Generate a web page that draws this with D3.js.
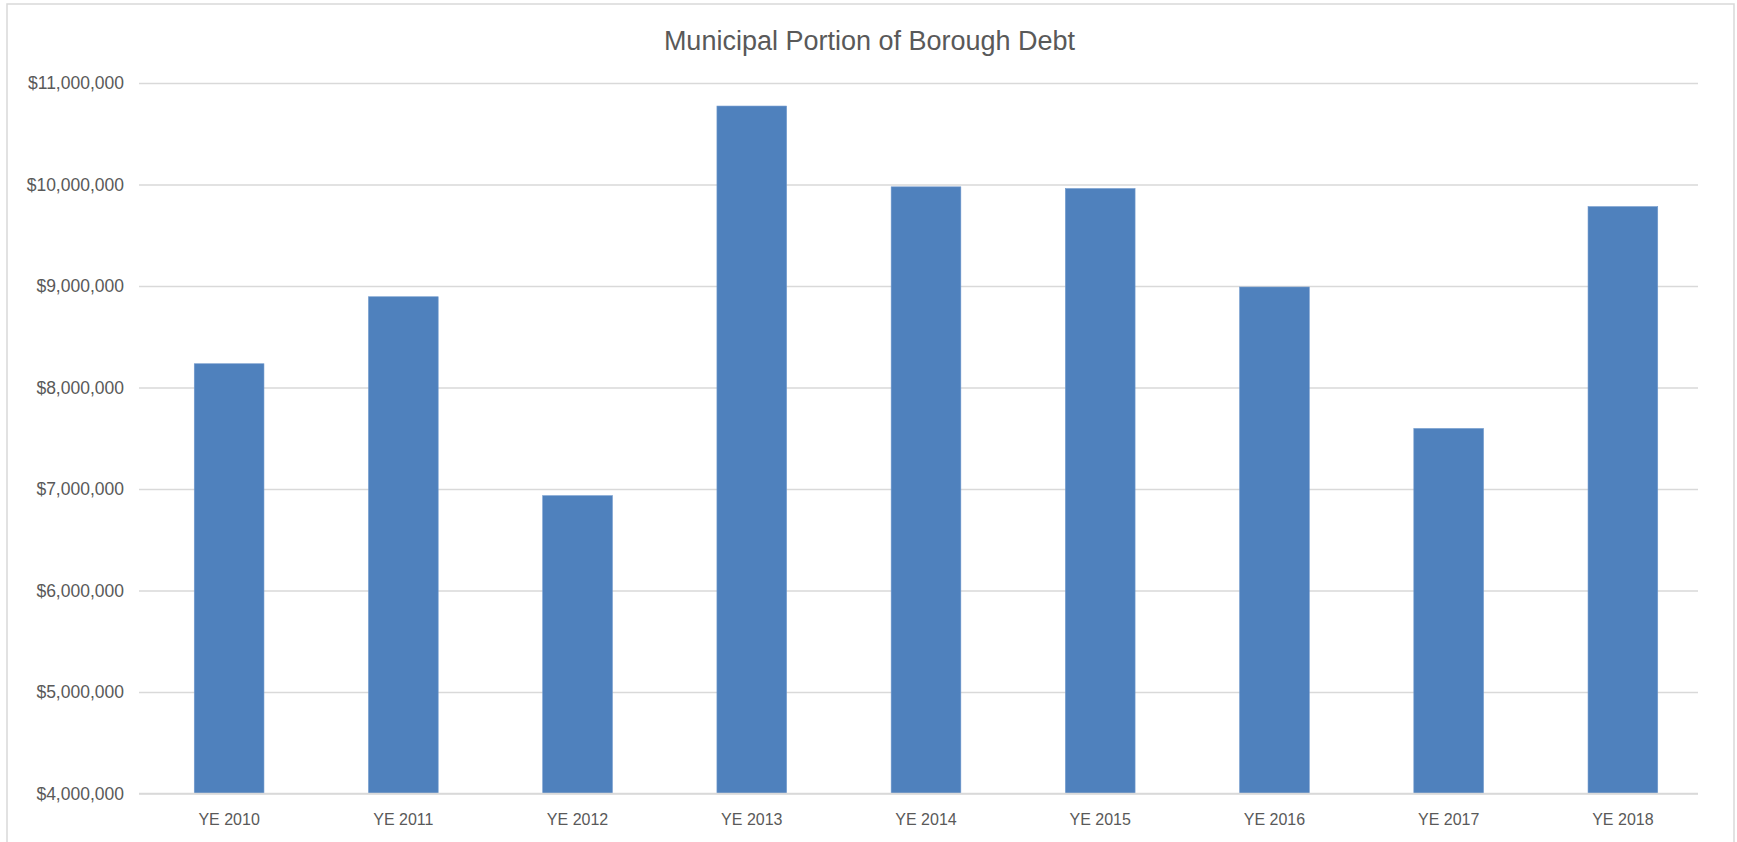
<!DOCTYPE html>
<html>
<head>
<meta charset="utf-8">
<script src="https://cdn.jsdelivr.net/npm/d3@7"></script>
<style>
  html, body { margin: 0; padding: 0; background: #fff; }
  svg { display: block; }
</style>
</head>
<body>
<svg id="chart" width="1737" height="842"></svg>
<script>
const title = "Municipal Portion of Borough Debt";
const categories = ["YE 2010","YE 2011","YE 2012","YE 2013","YE 2014","YE 2015","YE 2016","YE 2017","YE 2018"];
const values = [8234000, 8894000, 6934000, 10773000, 9977000, 9960000, 8990000, 7596000, 9782000];
const yTicks = [4000000, 5000000, 6000000, 7000000, 8000000, 9000000, 10000000, 11000000];

const svg = d3.select("#chart");
const W = 1737, H = 842;
const gridLeft = 139, gridRight = 1698;
const plotTop = 83, plotBottom = 793.5;
const font = "'Liberation Sans', Arial, sans-serif";
const textColor = "#595959";

// outer chart border
svg.append("rect")
  .attr("x", 7).attr("y", 4)
  .attr("width", 1727).attr("height", 860)
  .attr("fill", "#fff").attr("stroke", "#d9d9d9").attr("stroke-width", 1.5);

const x = d3.scaleBand()
  .domain(categories)
  .range([142, 1710])
  .paddingInner(0.6).paddingOuter(0.3);

const y = d3.scaleLinear()
  .domain([4000000, 11000000])
  .range([plotBottom, plotTop]);

// gridlines + y labels
const yAxis = d3.axisLeft(y)
  .tickValues(yTicks)
  .tickSize(-(gridRight - gridLeft))
  .tickPadding(15)
  .tickFormat(d => "$" + d3.format(",")(d));

const gy = svg.append("g")
  .attr("transform", `translate(${gridLeft},0)`)
  .call(yAxis);
gy.select(".domain").remove();
gy.selectAll(".tick line").attr("stroke", "#d9d9d9").attr("stroke-width", 1.5);
gy.selectAll(".tick text")
  .attr("fill", textColor)
  .style("font-family", font)
  .style("font-size", "17.5px");

// bars
svg.append("g").selectAll("rect")
  .data(categories.map((c, i) => ({ c, v: values[i] })))
  .join("rect")
  .attr("x", d => x(d.c))
  .attr("width", x.bandwidth())
  .attr("y", d => y(d.v))
  .attr("height", d => y(4000000) - y(d.v))
  .attr("fill", "#4f81bd")
  .attr("stroke", "#6f98cc").attr("stroke-width", 0.6);

// x axis labels
const xAxis = d3.axisBottom(x).tickSize(0).tickPadding(20);
const gx = svg.append("g")
  .attr("transform", `translate(0,${plotBottom})`)
  .call(xAxis);
gx.select(".domain").remove();
gx.selectAll(".tick text")
  .attr("fill", textColor)
  .style("font-family", font)
  .style("font-size", "16px");

// baseline
svg.append("line")
  .attr("x1", gridLeft).attr("x2", gridRight)
  .attr("y1", y(4000000)).attr("y2", y(4000000))
  .attr("stroke", "#d9d9d9").attr("stroke-width", 1.5);

// title
svg.append("text")
  .attr("x", (662 + 1077) / 2)
  .attr("y", 50)
  .attr("text-anchor", "middle")
  .attr("fill", textColor)
  .style("font-family", font)
  .style("font-size", "27px")
  .text(title);
</script>
</body>
</html>
